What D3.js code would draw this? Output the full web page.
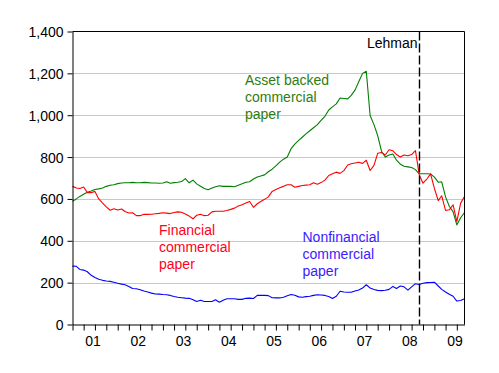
<!DOCTYPE html>
<html>
<head>
<meta charset="utf-8">
<script src="https://cdn.jsdelivr.net/npm/d3@7"></script>
<style>
  body { margin: 0; background: #fff; }
  svg { font-family: "Liberation Sans", Arial, sans-serif; }
  .grid line { stroke: #c8c8c8; }
  .axis text { font-size: 14px; fill: #000; }
  .axis line, .axis path { stroke: #000; }
  .note { font-size: 14px; }
</style>
</head>
<body>
<svg id="chart"></svg>
<script>
// Monthly observations, billions of dollars, starting January 2001
const firstMonth = "2001-01-01";

const assetBacked = [
  589, 600, 612, 622, 632, 638, 645, 648, 652, 660, 665, 668,
  673, 676, 677, 677, 679, 677, 677, 679, 678, 676, 676, 675,
  676, 682, 675, 678, 680, 683, 697, 677, 690, 672, 661, 650,
  644, 652, 658, 663, 660, 660, 660, 658, 665, 672, 680, 682,
  695, 705, 710, 715, 730, 742, 758, 776, 790, 800, 840, 862,
  880, 896, 911, 926, 940, 955, 975, 995, 1025, 1040, 1054, 1082,
  1080, 1078, 1095, 1120, 1160, 1200, 1210, 999, 955, 903, 828, 800,
  810, 815, 785, 766, 756, 753, 750, 740, 720, 720, 720, 719,
  704, 680, 682, 610, 565, 538, 476, 510, 535
];

const financial = [
  660, 652, 650, 657, 630, 630, 636, 600, 580, 562, 546, 553,
  547, 552, 540, 533, 534, 520, 520, 527, 526, 527, 529, 531,
  534, 532, 530, 535, 538, 536, 528, 518, 505, 522, 527, 520,
  522, 538, 541, 541, 541, 545, 550, 556, 566, 572, 580, 588,
  560, 577, 588, 598, 610, 636, 645, 653, 660, 668, 668, 656,
  660, 664, 666, 668, 677, 670, 678, 690, 712, 720, 728, 722,
  735, 762, 768, 772, 775, 770, 785, 736, 760, 818, 822, 810,
  835, 830, 812, 800, 810, 806, 812, 831, 715, 675, 695, 720,
  650, 592, 615, 545, 548, 572, 492, 580, 612
];

const nonfinancial = [
  279, 278, 263, 260, 252, 235, 225, 216, 211, 208, 206, 202,
  197, 193, 190, 182, 172, 171, 166, 160, 155, 150, 146, 145,
  143, 142, 139, 134, 130, 128, 126, 125, 118, 110, 116, 110,
  110, 110, 118, 106, 116, 123, 123, 123, 120, 120, 125, 126,
  124, 139, 139, 139, 138, 128, 127, 127, 130, 137, 143, 140,
  132, 130, 133, 135, 139, 142, 141, 139, 134, 124, 135, 159,
  155, 154, 154, 160, 165, 174, 190, 174, 167, 163, 162, 164,
  168, 182, 172, 184, 180, 164, 180, 195, 191, 197, 200, 201,
  202, 184, 168, 155, 145, 135, 112, 115, 123
];

const yTicks = [0, 200, 400, 600, 800, 1000, 1200, 1400];
const yearLabels = ["01", "02", "03", "04", "05", "06", "07", "08", "09"];
const lehmanDate = "2008-09-01";

class LineChart {
  constructor(_config) {
    this.config = {
      parentElement: _config.parentElement,
      containerWidth: _config.containerWidth || 499,
      containerHeight: _config.containerHeight || 373,
      plot: _config.plot
    };
    this.initVis();
  }

  initVis() {
    let vis = this;
    const p = vis.config.plot;

    vis.start = d3.utcParse("%Y-%m-%d")(firstMonth);
    vis.dates = d3.range(assetBacked.length).map(i => d3.utcMonth.offset(vis.start, i));

    vis.xScale = d3.scaleUtc()
        .domain([vis.start, vis.dates[vis.dates.length - 1]])
        .range([p.left, p.right]);

    vis.yScale = d3.scaleLinear()
        .domain([0, 1400])
        .range([p.bottom, p.top]);

    vis.svg = d3.select(vis.config.parentElement)
        .attr('width', vis.config.containerWidth)
        .attr('height', vis.config.containerHeight);

    vis.series = [
      {values: assetBacked, color: '#007f00'},
      {values: financial, color: '#ff0000'},
      {values: nonfinancial, color: '#0000ff'}
    ];

    vis.notes = [
      {lines: ['Asset backed', 'commercial', 'paper'], x: 245, y: 85, color: '#2e7d12'},
      {lines: ['Financial', 'commercial', 'paper'], x: 159, y: 235, color: '#ff0020'},
      {lines: ['Nonfinancial', 'commercial', 'paper'], x: 302.5, y: 242, color: '#3a1cff'}
    ];

    vis.renderVis();
  }

  renderVis() {
    let vis = this;
    const p = vis.config.plot;

    // horizontal gridlines
    vis.svg.append('g')
        .attr('class', 'grid')
      .selectAll('line')
        .data(yTicks.filter(d => d > 0 && d < 1400))
        .join('line')
        .attr('x1', p.left)
        .attr('x2', p.right)
        .attr('y1', d => Math.round(vis.yScale(d)) + 0.5)
        .attr('y2', d => Math.round(vis.yScale(d)) + 0.5);

    // lines
    const line = d3.line()
        .x((d, i) => vis.xScale(vis.dates[i]))
        .y(d => vis.yScale(d));

    vis.svg.append('g')
      .selectAll('path')
        .data(vis.series)
        .join('path')
        .attr('fill', 'none')
        .attr('stroke', d => d.color)
        .attr('stroke-width', 1.1)
        .attr('stroke-linejoin', 'round')
        .attr('d', d => line(d.values));

    // y axis
    const yAxis = d3.axisLeft(vis.yScale)
        .tickValues(yTicks)
        .tickFormat(d3.format(','))
        .tickSizeInner(5)
        .tickSizeOuter(0)
        .tickPadding(4);

    vis.svg.append('g')
        .attr('class', 'axis y-axis')
        .attr('transform', `translate(${p.left},0)`)
        .call(yAxis)
        .call(g => g.selectAll('text').attr('dy', '0.36em'));

    // x axis: quarterly ticks, year labels centred in each year
    const xAxis = d3.axisBottom(vis.xScale)
        .ticks(d3.utcMonth.every(3))
        .tickFormat('')
        .tickSizeInner(6)
        .tickSizeOuter(0);

    vis.svg.append('g')
        .attr('class', 'axis x-axis')
        .attr('transform', `translate(0,${p.bottom})`)
        .call(xAxis);

    vis.svg.append('g')
        .attr('class', 'axis')
      .selectAll('text')
        .data(yearLabels)
        .join('text')
        .attr('x', d => vis.xScale(new Date(Date.UTC(2000 + (+d), 5, 16))))
        .attr('y', p.bottom + 21)
        .attr('text-anchor', 'middle')
        .text(d => d);

    // plot frame (top and right)
    vis.svg.append('path')
        .attr('fill', 'none')
        .attr('stroke', '#000')
        .attr('d', `M${p.left},${p.top}H${p.right}V${p.bottom}`);

    // Lehman marker
    const lx = Math.round(vis.xScale(d3.utcParse("%Y-%m-%d")(lehmanDate))) + 0.5;
    vis.svg.append('line')
        .attr('x1', lx).attr('x2', lx)
        .attr('y1', p.top).attr('y2', p.bottom)
        .attr('stroke', '#000')
        .attr('stroke-width', 1.4)
        .attr('stroke-dasharray', '9,3');

    vis.svg.append('text')
        .attr('class', 'note')
        .attr('x', lx - 2)
        .attr('y', 48)
        .attr('text-anchor', 'end')
        .text('Lehman');

    // series annotations
    vis.notes.forEach(n => {
      const t = vis.svg.append('text')
          .attr('class', 'note')
          .attr('fill', n.color)
          .attr('x', n.x)
          .attr('y', n.y);
      n.lines.forEach((s, i) => {
        t.append('tspan')
            .attr('x', n.x)
            .attr('dy', i === 0 ? 0 : 17)
            .text(s);
      });
    });
  }
}

new LineChart({
  parentElement: '#chart',
  plot: {left: 72.5, right: 464.5, top: 31.5, bottom: 324.5}
});
</script>
</body>
</html>
